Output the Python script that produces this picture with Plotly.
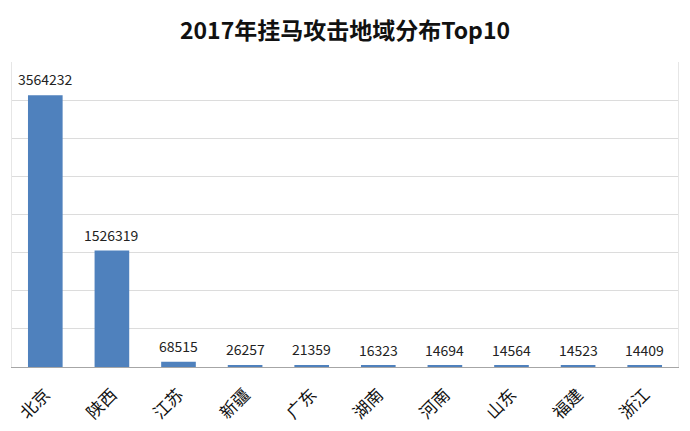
import plotly.graph_objects as go

categories = ["北京", "陕西", "江苏", "新疆", "广东", "湖南", "河南", "山东", "福建", "浙江"]
values = [3564232, 1526319, 68515, 26257, 21359, 16323, 14694, 14564, 14523, 14409]
title_text = "2017年挂马攻击地域分布Top10"

FONT = "Noto Sans CJK SC"
fig = go.Figure()
fig.add_trace(go.Bar(
    x=categories, y=values,
    marker=dict(color="#4F81BD", line=dict(width=0)),
    width=0.52,
))
for c, v in zip(categories, values):
    fig.add_annotation(x=c, y=v, text=str(v), showarrow=False,
                       yanchor="bottom", yshift=4,
                       font=dict(family=FONT, size=14, color="#222222"))

fig.update_layout(
    width=690, height=431,
    margin=dict(l=12, r=12, t=62, b=64, autoexpand=False),
    paper_bgcolor="white", plot_bgcolor="white",
    title=dict(text="<b>" + title_text + "</b>", x=0.5, xanchor="center",
               y=1 - 31 / 431, yanchor="middle", automargin=False,
               font=dict(family=FONT, size=23, color="#111111")),
    showlegend=False,
    font=dict(family=FONT),
)
fig.update_yaxes(range=[0, 4000000], dtick=500000, showticklabels=False,
                 showgrid=True, gridcolor="#dcdcdc", gridwidth=1, automargin=False,
                 zeroline=False, showline=True, linecolor="#e6e6e6", mirror=True)
fig.update_xaxes(tickangle=-45, tickfont=dict(family=FONT, size=17, color="#111111"),
                 showline=True, linecolor="#a6a6a6", linewidth=1, automargin=False,
                 showgrid=False, ticks="", ticklabelstandoff=10)
fig.write_html("out.html", config={"displayModeBar": False},
               post_script="document.body.style.margin='0';")
